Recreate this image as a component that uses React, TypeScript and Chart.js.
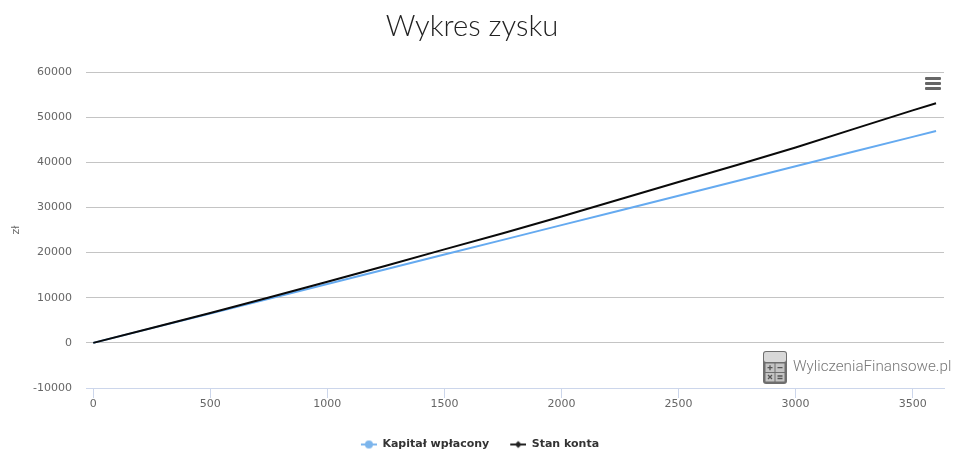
import { useEffect, useRef } from 'react'
import { Chart, registerables } from 'chart.js'

Chart.register(...registerables)

const kwoty = [0, 250, 500, 750, 1000, 1250, 1500, 1750, 2000, 2250, 2500, 2750, 3000, 3250, 3500, 3600]
const kapitalWplacony = [0, 3260, 6520, 9780, 13040, 16300, 19560, 22820, 26080, 29340, 32600, 35860, 39120, 42380, 45640, 46950]
const stanKonta = [0, 3280, 6620, 10040, 13540, 17100, 20720, 24300, 27980, 31800, 35650, 39400, 43300, 47400, 51500, 53100]
const seriesNames = ['Kapitał wpłacony', 'Stan konta']
const seriesColors = ['#65aaf0', '#0a0a0a']
const legendColors = ['#7cb5ec', '#222222']
const xTicks = [0, 500, 1000, 1500, 2000, 2500, 3000, 3500]
const yTicks = [-10000, 0, 10000, 20000, 30000, 40000, 50000, 60000]

// legend sample: short line with a marker on it, like the original
// the left gap is part of the image so the legend can sit right at the bottom edge
function legendMarker(color: string, diamond: boolean) {
  const gap = 21
  const c = document.createElement('canvas')
  c.width = 16 + gap
  c.height = 12
  const ctx = c.getContext('2d')!
  ctx.strokeStyle = color
  ctx.fillStyle = color
  ctx.lineWidth = 2
  ctx.beginPath()
  ctx.moveTo(gap, 6)
  ctx.lineTo(gap + 16, 6)
  ctx.stroke()
  ctx.beginPath()
  const cx = gap + 8
  if (diamond) {
    ctx.moveTo(cx, 2.5)
    ctx.lineTo(cx + 3.5, 6)
    ctx.lineTo(cx, 9.5)
    ctx.lineTo(cx - 3.5, 6)
    ctx.closePath()
  } else {
    ctx.arc(cx, 6, 4, 0, Math.PI * 2)
  }
  ctx.fill()
  return c
}

// nudge the centred legend a little to the left
const legendShift = {
  id: 'legendShift',
  afterLayout(chart: any) {
    if (chart.legend) chart.legend.right -= 5
  },
}

export default function App() {
  const chartRef = useRef<HTMLCanvasElement>(null)

  useEffect(() => {
    if (!chartRef.current) return
    const tickFont = { family: 'DejaVu Sans', size: 11 }
    const markers = [legendMarker(legendColors[0], false), legendMarker(legendColors[1], true)]
    const chart = new Chart(chartRef.current, {
      type: 'line',
      plugins: [legendShift],
      data: {
        labels: kwoty,
        datasets: seriesNames.map((name, i) => ({
          label: name,
          data: (i === 0 ? kapitalWplacony : stanKonta).map((y, k) => ({ x: kwoty[k], y })),
          borderColor: seriesColors[i],
          backgroundColor: seriesColors[i],
          borderWidth: 2,
          pointRadius: 0,
          tension: 0,
          // black line goes on top of the blue one
          order: 1 - i,
        })),
      },
      options: {
        responsive: false,
        animation: false,
        layout: { padding: { left: 0, right: 28, top: 0, bottom: -11 } },
        scales: {
          x: {
            type: 'linear',
            min: -31,
            max: 3634,
            border: { color: '#ccd6eb', width: 1 },
            grid: { drawOnChartArea: false, color: '#ccd6eb', tickLength: 10 },
            afterBuildTicks: (scale: any) => {
              scale.ticks = xTicks.map((value) => ({ value }))
            },
            afterFit: (scale: any) => {
              scale.height = 51
            },
            ticks: {
              maxRotation: 0,
              autoSkip: false,
              color: '#666666',
              font: tickFont,
              padding: 0,
              callback: (v: any) => String(v),
            },
          },
          y: {
            min: -10000,
            max: 60000,
            border: { display: false },
            grid: {
              // the lowest line is the x axis itself
              color: (ctx: any) => (ctx.tick && ctx.tick.value === yTicks[0] ? '#ccd6eb' : '#c4c4c4'),
              drawTicks: false,
            },
            afterBuildTicks: (scale: any) => {
              scale.ticks = yTicks.map((value) => ({ value }))
            },
            ticks: { color: '#666666', font: tickFont, padding: 14, callback: (v: any) => String(v) },
            title: { display: true, text: 'zł', color: '#666666', font: tickFont, padding: { top: 10, bottom: 0 } },
            afterFit: (scale: any) => {
              scale.width = 86
            },
          },
        },
        plugins: {
          title: {
            display: true,
            text: 'Wykres zysku',
            color: '#222222',
            font: { family: 'Lato', size: 29.2, weight: 300 as any },
            padding: { top: 9, bottom: 28 },
          },
          legend: {
            position: 'bottom',
            labels: {
              usePointStyle: true,
              pointStyleWidth: 37,
              color: '#333333',
              font: { family: 'DejaVu Sans', size: 11, weight: 'bold' },
              padding: 0,
              generateLabels: (c: any) =>
                c.data.datasets.map((d: any, i: number) => ({
                  text: d.label,
                  pointStyle: markers[i],
                  fontColor: '#333333',
                  lineWidth: 0,
                  datasetIndex: i,
                })),
            },
          },
          tooltip: { enabled: false },
        },
      },
    })
    return () => chart.destroy()
  }, [])

  return (
    <div style={{ position: 'relative', width: 972, height: 449, overflow: 'hidden' }}>
      <style>{'body{margin:0}'}</style>
      <canvas ref={chartRef} width={972} height={449} style={{ display: 'block' }} />
      {[0, 5, 10].map((top) => (
        <div
          key={top}
          style={{ position: 'absolute', left: 925, top: 77 + top, width: 16, height: 3, borderRadius: 1, background: '#666666' }}
        />
      ))}
      <svg style={{ position: 'absolute', left: 763, top: 351 }} width={24} height={33} viewBox="0 0 24 33">
        <rect width={24} height={33} rx={3} fill="#6e6e6e" />
        <rect x={1} y={1} width={22} height={10} rx={2} fill="#d8d8d8" />
        <rect x={2.5} y={12.5} width={9} height={8.5} fill="#c4c4c4" />
        <rect x={12.5} y={12.5} width={9} height={8.5} fill="#c4c4c4" />
        <rect x={2.5} y={22} width={9} height={8.5} fill="#c4c4c4" />
        <rect x={12.5} y={22} width={9} height={8.5} fill="#c4c4c4" />
        <path d="M4.5 16.7h5M7 14.2v5M14.5 16.7h5M5 24l4 4M9 24l-4 4M14.5 25h5M14.5 27.5h5" stroke="#555555" strokeWidth={1.3} />
      </svg>
      <div
        style={{
          position: 'absolute',
          left: 793,
          top: 356,
          fontFamily: 'Roboto',
          fontWeight: 300,
          fontSize: 15.2,
          lineHeight: '20px',
          color: '#777777',
          whiteSpace: 'nowrap',
        }}
      >
        WyliczeniaFinansowe.pl
      </div>
    </div>
  )
}
